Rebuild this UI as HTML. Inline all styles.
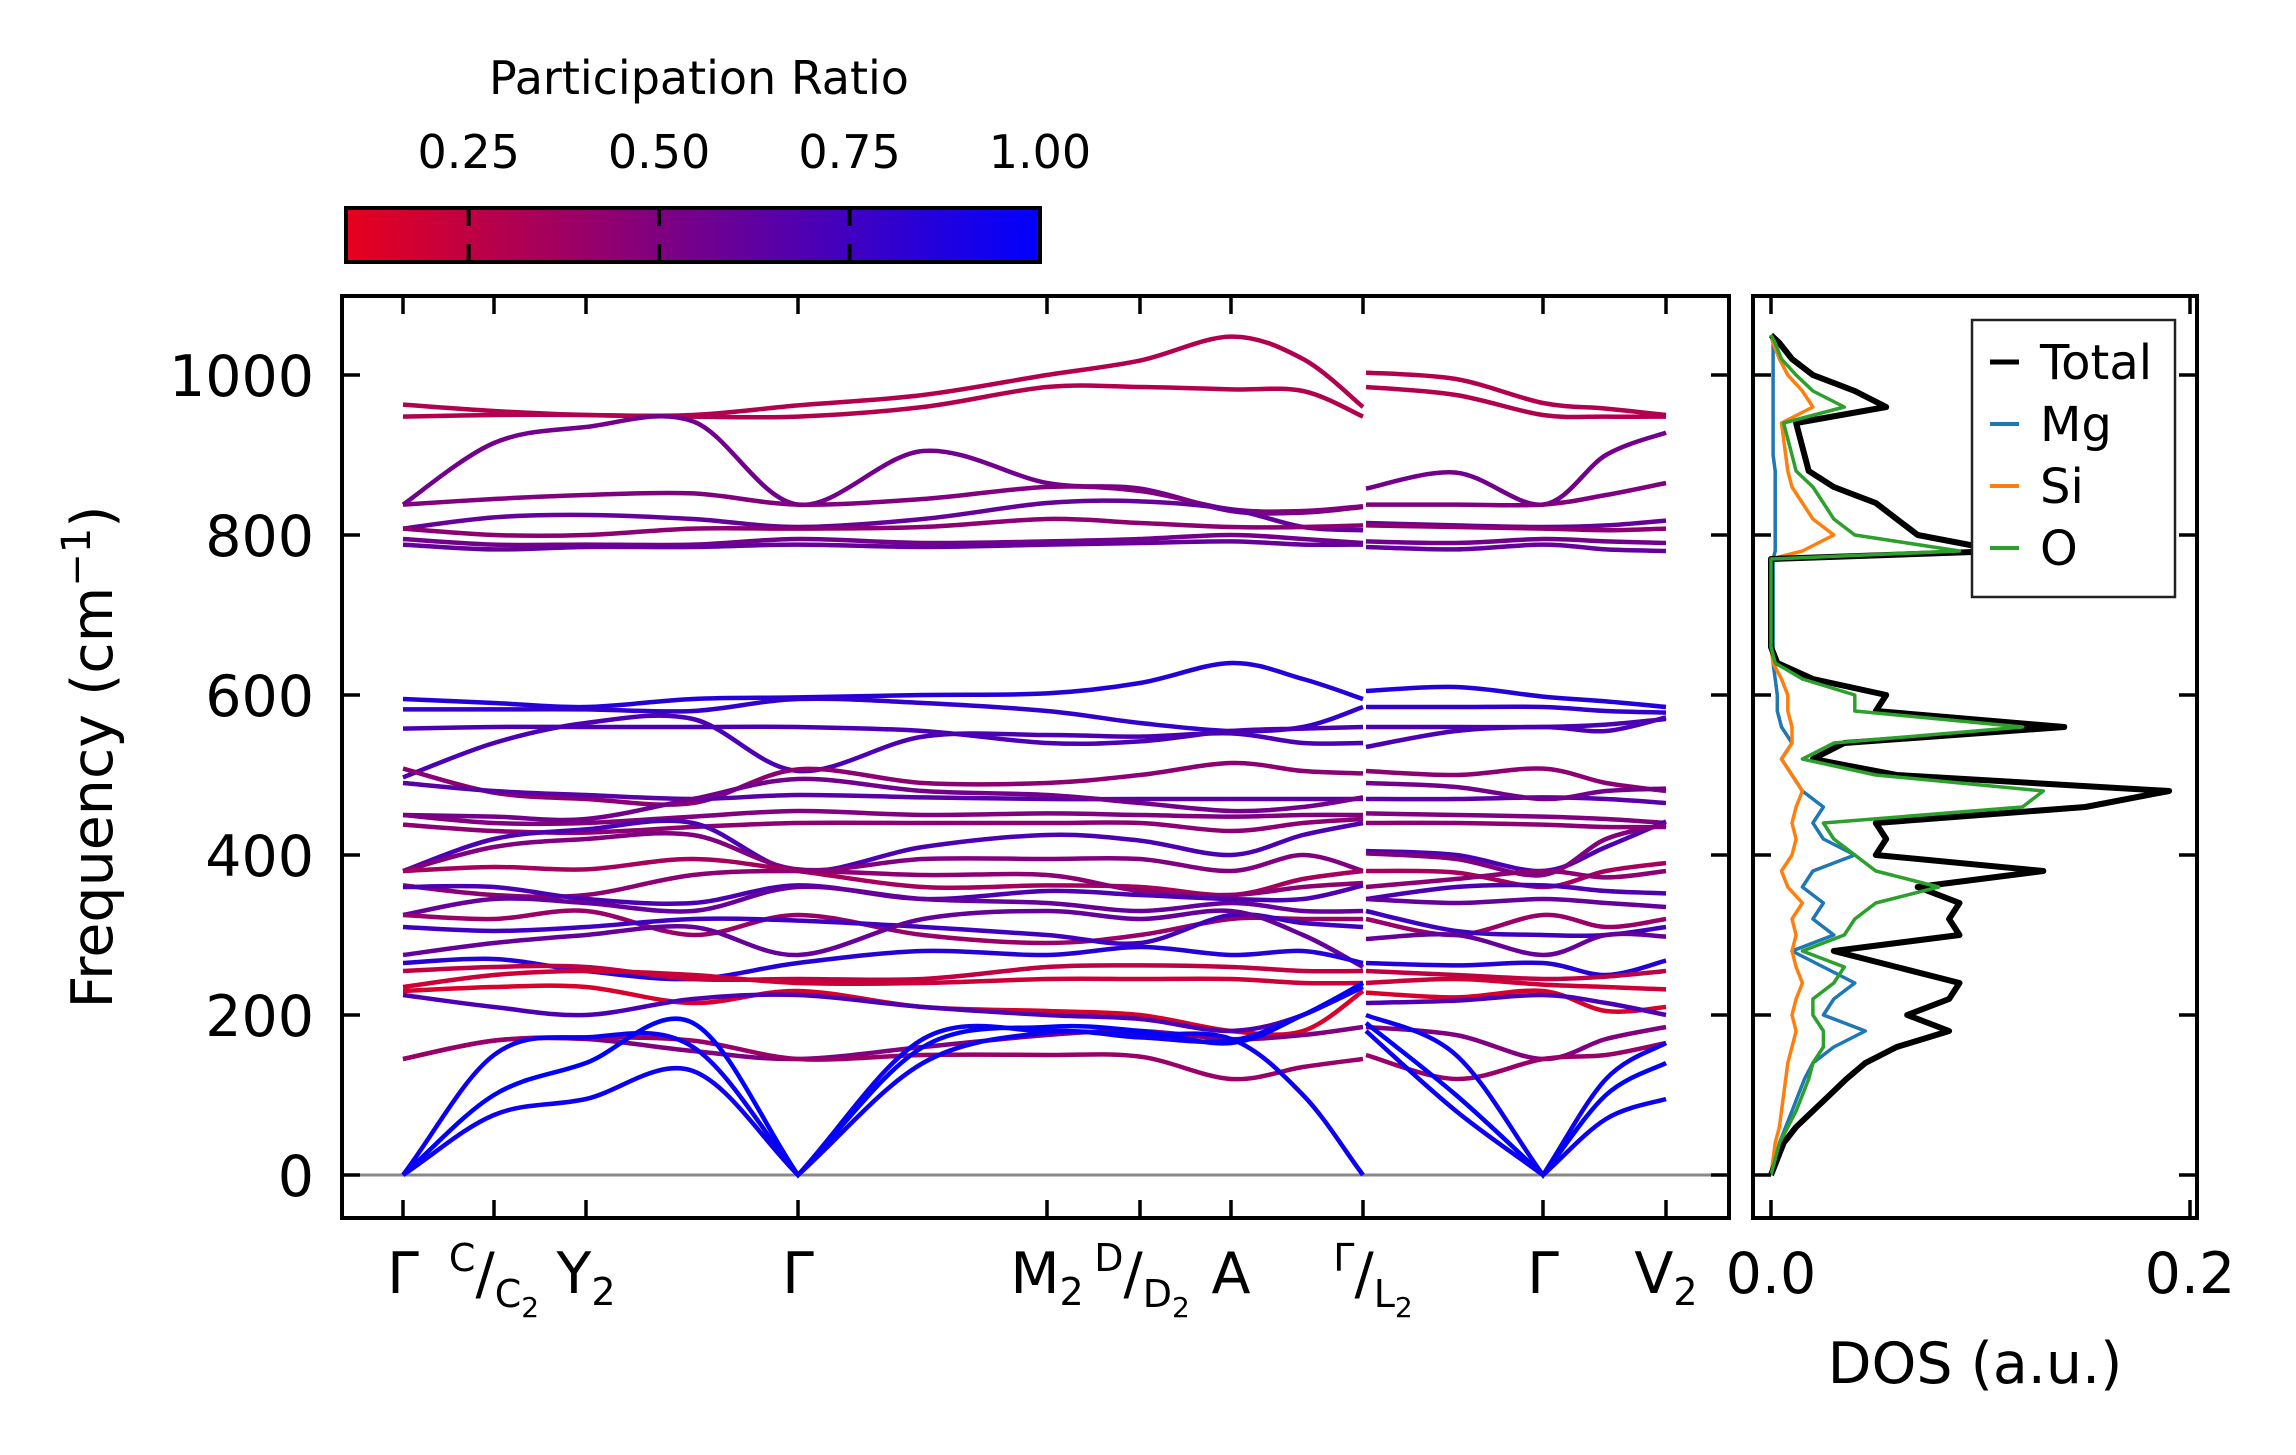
<!DOCTYPE html>
<html><head><meta charset="utf-8"><style>
html,body{margin:0;padding:0;background:#fff;}
svg{display:block;font-family:"DejaVu Sans","Liberation Sans",sans-serif;}
</style></head><body>
<svg id="chart" width="2296" height="1455" viewBox="0 0 2296 1455" xmlns="http://www.w3.org/2000/svg">
<defs>
<linearGradient id="cbgrad" x1="0" x2="1" y1="0" y2="0">
<stop offset="0" stop-color="rgb(232,0,28)"/><stop offset="0.45" stop-color="rgb(128,0,128)"/><stop offset="1" stop-color="rgb(0,0,255)"/>
</linearGradient>
</defs>
<g id="colorbar">
<text x="699" y="94" font-size="46" text-anchor="middle">Participation Ratio</text>
<rect x="346" y="208" width="694" height="54" fill="url(#cbgrad)" stroke="#000" stroke-width="4"/>
</g>
<g id="bands"></g>
<g id="dos"></g>
<g id="axes"></g>
</svg>
<script>
// ---- colorbar ticks ----
const cbTicks = [0.25, 0.50, 0.75, 1.00];
// ---- band structure data ----
const kSeg1 = [0,0.91,1.83,2.9,3.95,5.2,6.44,7.37,8.28,9.0,9.6];
const kSeg2 = [9.6,10.5,11.37,12.0,12.6];
const bandsSeg1 = [
[963,955,950,950,962,975,1000,1018,1048,1020,960],
[948,950,950,948,948,960,985,985,982,980,948],
[838,915,935,942,838,905,865,858,830,828,835],
[838,845,850,852,838,845,860,855,832,830,836],
[808,822,825,820,810,820,840,842,832,810,806],
[808,800,800,808,808,810,820,815,810,810,812],
[795,788,788,788,795,790,792,795,800,795,790],
[788,782,785,785,788,785,788,790,792,788,788],
[595,590,585,595,597,600,602,615,640,620,595],
[582,582,582,580,595,590,580,565,555,560,585],
[558,560,560,560,560,555,540,542,555,558,560],
[497,540,565,570,505,548,550,548,552,540,540],
[508,478,470,465,507,490,490,500,515,505,502],
[490,480,475,470,475,472,470,470,470,470,470],
[450,448,445,470,495,480,475,465,455,460,472],
[450,440,440,448,455,450,452,450,448,450,450],
[438,430,428,435,440,440,440,440,430,440,445],
[380,420,432,440,380,410,425,418,400,425,440],
[380,410,420,425,382,395,395,395,380,400,380],
[380,385,382,395,380,360,362,360,350,370,380],
[362,350,350,375,380,375,375,355,350,360,365],
[360,360,345,340,362,345,355,350,345,345,362],
[325,345,340,330,360,345,340,330,340,330,330],
[325,320,330,300,325,300,290,300,320,320,320],
[310,305,310,320,318,310,300,290,325,315,310],
[275,290,300,310,275,320,330,320,330,300,260],
[265,270,255,245,265,280,275,285,275,280,265],
[255,260,260,245,245,245,260,262,260,255,255],
[235,250,255,250,240,240,245,245,245,240,240],
[230,235,235,215,230,210,205,200,180,180,230],
[225,210,200,220,225,210,200,195,180,200,240],
[145,168,170,155,145,160,175,180,170,175,185],
[145,168,172,168,145,150,150,148,120,135,145],
[0,150,172,160,0,170,180,175,170,100,0],
[0,100,140,190,0,160,185,180,165,200,240],
[0,75,95,130,0,140,178,172,168,200,235]
];
const bandsSeg2 = [
[1003,995,965,958,950],[985,975,950,948,948],[858,878,838,900,928],[838,838,838,850,865],
[815,812,810,812,818],[812,810,808,806,808],[792,790,795,792,790],[785,782,788,782,780],
[605,610,598,592,585],[585,585,585,580,578],[560,560,560,563,570],[535,555,560,555,572],
[505,500,508,490,480],[470,470,472,470,465],[490,485,470,480,483],[452,450,448,445,440],
[440,440,438,435,435],[405,400,380,410,442],[402,395,375,420,438],[380,378,360,380,390],
[360,370,380,372,380],[345,360,362,355,352],[345,340,345,340,335],[320,300,325,310,320],
[330,305,300,300,310],[295,300,275,300,298],[265,262,265,250,268],[255,250,245,248,255],
[240,245,238,235,232],[228,222,230,205,210],[215,218,225,215,200],[185,175,145,170,185],
[150,120,145,150,165],[200,150,0,120,165],[190,100,0,100,140],[180,80,0,70,95]
];
const bandPR = [0.3,0.3,0.55,0.5,0.6,0.45,0.55,0.6,0.85,0.8,0.7,0.7,0.45,0.65,0.55,0.5,0.45,0.7,0.5,0.35,0.45,0.7,0.6,0.4,0.75,0.6,0.85,0.25,0.2,0.15,0.7,0.5,0.4,0.95,1.0,0.95];
const yTicks = [0,200,400,600,800,1000];
const kTickPos = [0,0.91,1.83,3.95,6.44,7.37,8.28,9.6,11.37,12.6];
// ---- DOS data (freq) ----
const dosFreq = [0,20,40,60,80,100,120,140,160,180,200,220,240,260,280,300,320,340,360,380,400,420,440,460,480,500,520,540,560,580,600,620,640,660,680,700,720,740,760,770,780,800,820,840,860,880,900,920,940,960,980,1000,1020,1040,1050];
const dosTotal = [0,0.003,0.006,0.012,0.02,0.028,0.036,0.045,0.06,0.085,0.065,0.085,0.09,0.06,0.03,0.09,0.085,0.09,0.07,0.13,0.05,0.055,0.05,0.15,0.19,0.06,0.02,0.035,0.14,0.05,0.055,0.02,0.003,0,0,0,0,0,0,0,0.11,0.07,0.06,0.05,0.03,0.018,0.016,0.014,0.012,0.055,0.04,0.02,0.01,0.004,0];
const dosMg = [0,0.002,0.004,0.007,0.01,0.013,0.016,0.02,0.03,0.045,0.025,0.03,0.04,0.025,0.01,0.03,0.02,0.025,0.015,0.02,0.04,0.025,0.02,0.025,0.015,0.01,0.005,0.01,0.005,0.003,0.003,0.002,0.001,0.001,0.001,0.001,0.001,0.001,0.001,0.001,0.002,0.002,0.002,0.002,0.002,0.002,0.001,0.001,0.001,0.001,0.001,0.001,0.001,0.001,0];
const dosSi = [0,0.001,0.002,0.004,0.005,0.006,0.007,0.008,0.01,0.012,0.01,0.012,0.015,0.012,0.01,0.012,0.01,0.015,0.008,0.005,0.01,0.012,0.01,0.012,0.015,0.01,0.005,0.01,0.01,0.008,0.008,0.005,0.001,0,0,0,0,0,0,0,0.015,0.03,0.02,0.015,0.01,0.008,0.007,0.006,0.005,0.02,0.015,0.008,0.004,0.001,0];
const dosO = [0,0.002,0.004,0.008,0.012,0.015,0.018,0.02,0.025,0.025,0.02,0.02,0.03,0.035,0.015,0.035,0.04,0.05,0.08,0.05,0.04,0.03,0.025,0.12,0.13,0.05,0.015,0.03,0.12,0.04,0.04,0.015,0.002,0,0,0,0,0,0,0,0.09,0.04,0.03,0.025,0.02,0.012,0.01,0.008,0.006,0.035,0.02,0.012,0.005,0.002,0];
const dosNames = ['Total','Mg','Si','O'];

const NS='http://www.w3.org/2000/svg';
function mk(tag, attrs, parent){const e=document.createElementNS(NS,tag);for(const k in attrs)e.setAttribute(k,attrs[k]);parent.appendChild(e);return e;}
const Y0=1175, YS=0.8;
function yF(f){return Y0-f*YS;}
function xK1(k){return 403+k*100;}
function xK2(k){return 406+k*100;}
function xD(d){return 1771+d*2095;}
const CB_L=346, CB_R=1040, CB_LO=0.089, CB_HI=1.0;
function xCB(v){return CB_L+(v-CB_LO)/(CB_HI-CB_LO)*(CB_R-CB_L);}
function cmap(p){
  const t=Math.max(0,Math.min(1,(p-CB_LO)/(CB_HI-CB_LO)));
  let r,g=0,b;
  if(t<0.45){const u=t/0.45;r=232+(128-232)*u;b=28+(128-28)*u;}
  else{const u=(t-0.45)/0.55;r=128*(1-u);b=128+127*u;}
  return `rgb(${Math.round(r)},${g},${Math.round(b)})`;
}
function smoothPath(pts, cusp){
  let d=`M${pts[0][0].toFixed(1)},${pts[0][1].toFixed(1)}`;
  for(let i=0;i<pts.length-1;i++){
    const p0=pts[Math.max(0,i-1)],p1=pts[i],p2=pts[i+1],p3=pts[Math.min(pts.length-1,i+2)];
    let c1,c2;
    if(cusp[i]) c1=[p1[0]+(p2[0]-p1[0])/3,p1[1]+(p2[1]-p1[1])/3];
    else c1=[p1[0]+(p2[0]-p0[0])/6,p1[1]+(p2[1]-p0[1])/6];
    if(cusp[i+1]) c2=[p2[0]-(p2[0]-p1[0])/3,p2[1]-(p2[1]-p1[1])/3];
    else c2=[p2[0]-(p3[0]-p1[0])/6,p2[1]-(p3[1]-p1[1])/6];
    d+=` C${c1[0].toFixed(1)},${c1[1].toFixed(1)} ${c2[0].toFixed(1)},${c2[1].toFixed(1)} ${p2[0].toFixed(1)},${p2[1].toFixed(1)}`;
  }
  return d;
}
function linePath(pts){return pts.map((p,i)=>(i?'L':'M')+p[0].toFixed(1)+','+p[1].toFixed(1)).join(' ');}

const gB=document.getElementById('bands');
const gD=document.getElementById('dos');
const gA=document.getElementById('axes');
const cbG=document.getElementById('colorbar');

cbTicks.forEach((v)=>{
  const x=xCB(v);
  if(v<1){
    const t1=mk('line',{x1:x,y1:208,x2:x,y2:226,stroke:'#000','stroke-width':4},cbG);
    
    
    const t2=mk('line',{x1:x,y1:244,x2:x,y2:262,stroke:'#000','stroke-width':4},cbG);
    
    
  }
  const tx=mk('text',{x:x,y:168,'font-size':46,'text-anchor':'middle'},cbG);
  tx.textContent=v.toFixed(2);
  
  
});

const zl=mk('line',{x1:342,y1:yF(0),x2:1727,y2:yF(0),stroke:'#888','stroke-width':3},gB);



bandsSeg1.forEach((b,i)=>{
  const p=mk('path',{d:smoothPath(b.map((f,j)=>[xK1(kSeg1[j]),yF(f)]), b.map(f=>f===0)),fill:'none',stroke:cmap(bandPR[i]),'stroke-width':4.5},gB);
  
  
});
bandsSeg2.forEach((b,i)=>{
  const p=mk('path',{d:smoothPath(b.map((f,j)=>[xK2(kSeg2[j]),yF(f)]), b.map(f=>f===0)),fill:'none',stroke:cmap(bandPR[i]),'stroke-width':4.5},gB);
  
  
});

const dosSeries=[dosTotal,dosMg,dosSi,dosO];
const dosColors=['#000000','#1f77b4','#ff7f0e','#2ca02c'];
const dosWidths=[6,3.5,3.5,3.5];
[1,2,0,3].forEach(si=>{
  const p=mk('path',{d:linePath(dosSeries[si].map((d,j)=>[xD(d),yF(dosFreq[j])])),fill:'none',stroke:dosColors[si],'stroke-width':dosWidths[si],'stroke-linejoin':'round'},gD);
  
  
});

const f1=mk('rect',{x:342,y:296,width:1387,height:922,fill:'none',stroke:'#000','stroke-width':4},gA);


const f2=mk('rect',{x:1753,y:296,width:444,height:922,fill:'none',stroke:'#000','stroke-width':4},gA);



yTicks.forEach(v=>{
  const y=yF(v);
  [[342,360],[1711,1729],[1753,1771],[2179,2197]].forEach(([a,b])=>{
    const t=mk('line',{x1:a,y1:y,x2:b,y2:y,stroke:'#000','stroke-width':3.5},gA);
    
    
  });
  const tx=mk('text',{x:314,y:y+21,'font-size':57,'text-anchor':'end'},gA);
  tx.textContent=String(v);
  
  
});
kTickPos.forEach((k,i)=>{
  const x = i>=8 ? xK2(k) : xK1(k);
  [[296,314],[1200,1218]].forEach(([a,b])=>{
    const t=mk('line',{x1:x,y1:a,x2:x,y2:b,stroke:'#000','stroke-width':3.5},gA);
    
    
  });
});
function kLabel(x, parts){
  const t=mk('text',{x:x,y:1293,'font-size':57,'text-anchor':'middle'},gA);
  
  
  parts.forEach(([s,fs,dy])=>{const ts=mk('tspan',{'font-size':fs,dy:dy},t);ts.textContent=s;});
}
kLabel(xK1(0),[['Γ',57,0]]);
kLabel(xK1(0.91),[['C',38,-22],['/',57,22],['C',38,14],['2',28,10]]);
kLabel(xK1(1.83),[['Y',57,0],['2',38,12]]);
kLabel(xK1(3.95),[['Γ',57,0]]);
kLabel(xK1(6.44),[['M',57,0],['2',38,12]]);
kLabel(xK1(7.37)+2,[['D',38,-22],['/',57,22],['D',38,14],['2',28,10]]);
kLabel(xK1(8.28),[['A',57,0]]);
kLabel(xK1(9.6)+10,[['Γ',38,-22],['/',57,22],['L',38,14],['2',28,10]]);
kLabel(xK2(11.37),[['Γ',57,0]]);
kLabel(xK2(12.6),[['V',57,0],['2',38,12]]);

[0,0.2].forEach(v=>{
  const x=xD(v);
  [[296,314],[1200,1218]].forEach(([a,b])=>{
    const t=mk('line',{x1:x,y1:a,x2:x,y2:b,stroke:'#000','stroke-width':3.5},gA);
    
    
  });
  const tx=mk('text',{x:x,y:1293,'font-size':57,'text-anchor':'middle'},gA);
  tx.textContent=v.toFixed(1);
  
  
});

const yt=mk('text',{x:0,y:0,'font-size':57,'text-anchor':'middle',transform:'translate(112,757) rotate(-90)'},gA);


yt.appendChild(document.createTextNode('Frequency (cm'));
const sup=mk('tspan',{'font-size':40,dy:-22},yt);sup.textContent='−1';
const cl=mk('tspan',{dy:22},yt);cl.textContent=')';
const xt=mk('text',{x:1975,y:1383,'font-size':57,'text-anchor':'middle'},gA);
xt.textContent='DOS (a.u.)';



const lg=mk('g',{},gA);


const lb=mk('rect',{x:1972,y:320,width:203,height:277,fill:'#fff',stroke:'#222','stroke-width':2.5},lg);


const legY=[362,424,486,548];
dosNames.forEach((n,i)=>{
  const l=mk('line',{x1:1990,y1:legY[i],x2:2019,y2:legY[i],stroke:dosColors[i],'stroke-width':i===0?5:4},lg);
  
  
  const t=mk('text',{x:2040,y:legY[i]+17,'font-size':48},lg);
  t.textContent=n;
  
  
});
</script>
</body></html>
